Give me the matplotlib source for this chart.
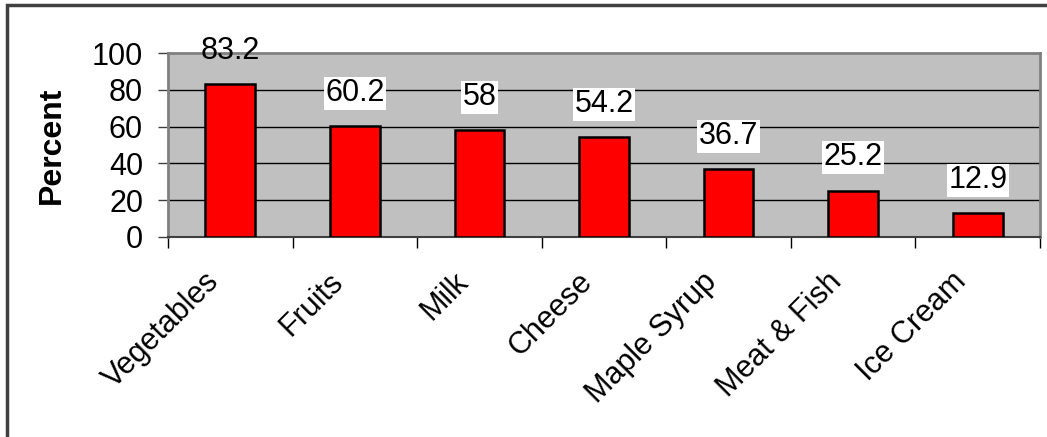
import matplotlib.pyplot as plt
import matplotlib.patches as mpatches
from matplotlib.transforms import ScaledTranslation
import numpy as np

plt.rcParams['font.family'] = ['Liberation Sans', 'DejaVu Sans']

foods = ["Vegetables", "Fruits", "Milk", "Cheese", "Maple Syrup", "Meat & Fish", "Ice Cream"]
percent = [83.2, 60.2, 58, 54.2, 36.7, 25.2, 12.9]
yticks = [0, 20, 40, 60, 80, 100]

fig = plt.figure(figsize=(10.47, 4.37), dpi=100)
# outer chart frame (only left/top edges fall inside the image)
fig.patches.append(mpatches.Rectangle((7 / 1047, -0.1), 1.2, 1 - 5 / 437 + 0.1,
                                      transform=fig.transFigure, fill=False,
                                      edgecolor="#404040", linewidth=2.5))

ax = fig.add_axes([0.1605, 0.4583, 0.8328, 0.4197])
ax.set_facecolor("#c0c0c0")

x = np.arange(len(foods))
ax.bar(x, percent, width=0.4, color="red", edgecolor="black", linewidth=1.8, zorder=3)

ax.set_xlim(-0.5, len(foods) - 0.5)
ax.set_ylim(0, 100)
ax.set_yticks(yticks)
ax.set_yticklabels([str(t) for t in yticks], fontsize=22)
ax.tick_params(axis="y", length=7, width=1, pad=11, color="#404040")
for t in yticks[1:-1]:
    ax.axhline(t, color="black", linewidth=1, zorder=1)

# ticks between categories, labels at category centres
ax.set_xticks(x)
ax.set_xticklabels(foods, fontsize=22, rotation=45, ha="right", va="center",
                   rotation_mode="anchor")
ax.tick_params(axis="x", which="major", length=0, pad=32)
shift = ScaledTranslation(-0.16, 0.04, fig.dpi_scale_trans)
for lbl in ax.get_xticklabels():
    lbl.set_transform(lbl.get_transform() + shift)
ax.set_xticks(np.arange(len(foods) + 1) - 0.5, minor=True)
ax.tick_params(axis="x", which="minor", length=8, width=1, color="black")

for side in ["top", "right", "left"]:
    ax.spines[side].set_color("#808080")
    ax.spines[side].set_linewidth(2)
ax.spines["bottom"].set_color("#404040")
ax.spines["bottom"].set_linewidth(1.5)

ax.set_ylabel("Percent", fontsize=23, fontweight="bold", labelpad=18)

# value labels above bars
for xi, v in zip(x, percent):
    ypos = v + 18
    box = None
    if ypos + 10 < 100:
        box = dict(boxstyle="square,pad=0.05", facecolor="white", edgecolor="none")
    ax.text(xi, ypos, f"{v:g}", ha="center", va="center", fontsize=22,
            bbox=box, zorder=4, clip_on=False)

fig.savefig("out.png", dpi=100)
